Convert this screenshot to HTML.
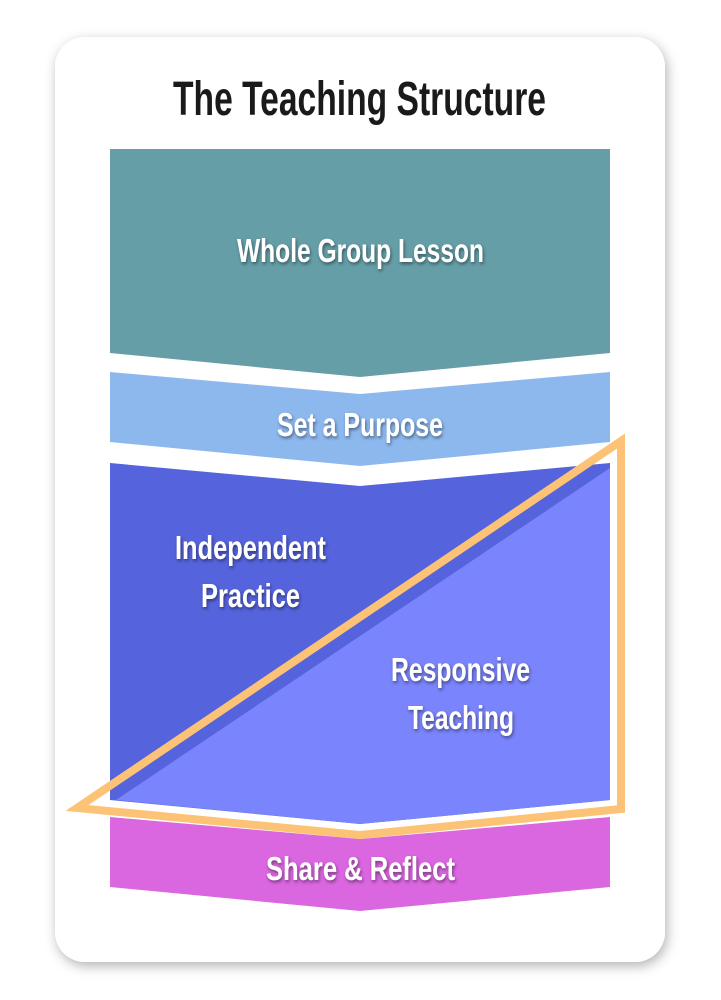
<!DOCTYPE html>
<html><head><meta charset="utf-8"><style>
html,body{margin:0;padding:0;background:#fff;width:721px;height:1000px;overflow:hidden}
svg{display:block}
</style></head><body>
<svg width="721" height="1000" viewBox="0 0 721 1000" xmlns="http://www.w3.org/2000/svg">
<defs>
<filter id="sh" x="-10%" y="-10%" width="120%" height="120%"><feDropShadow dx="2" dy="4" stdDeviation="6" flood-color="#000" flood-opacity="0.3"/></filter>
<filter id="ts" x="-10%" y="-20%" width="120%" height="150%"><feDropShadow dx="1" dy="2" stdDeviation="1.5" flood-color="#000" flood-opacity="0.45"/></filter>
</defs>
<rect x="55" y="37" width="610" height="925" rx="30" fill="#fff" filter="url(#sh)"/>
<text x="173" y="115" textLength="373" lengthAdjust="spacingAndGlyphs" font-family="Liberation Sans, sans-serif" font-weight="bold" font-size="48" fill="#1a1a1a">The Teaching Structure</text>
<polygon points="110,149 610,149 610,353 360,377 110,353" fill="#659ea7"/>
<polygon points="110,372 360,394 610,372 610,442 360,466 110,442" fill="#8db8ee"/>
<polygon points="110,463 360,486 610,463 610,800 360,824 110,800" fill="#5563dc"/>
<polygon points="610,468 610,800 360,824 116,800" fill="#7a84fc"/>
<polygon points="110,817 360,839 610,817 610,887 360,911 110,887" fill="#da66e0"/>
<polygon points="621,441 621,809 360,835 77,808" fill="none" stroke="#fcc275" stroke-width="8" stroke-linejoin="miter" stroke-miterlimit="10"/>
<g font-family="Liberation Sans, sans-serif" font-weight="bold" font-size="33" fill="#fff" filter="url(#ts)">
<text x="237" y="262" textLength="247" lengthAdjust="spacingAndGlyphs">Whole Group Lesson</text>
<text x="277" y="436" textLength="166" lengthAdjust="spacingAndGlyphs">Set a Purpose</text>
<text x="175" y="559" textLength="151" lengthAdjust="spacingAndGlyphs">Independent</text>
<text x="201" y="607" textLength="99" lengthAdjust="spacingAndGlyphs">Practice</text>
<text x="391" y="681" textLength="139" lengthAdjust="spacingAndGlyphs">Responsive</text>
<text x="408" y="729" textLength="106" lengthAdjust="spacingAndGlyphs">Teaching</text>
<text x="266" y="880" textLength="189" lengthAdjust="spacingAndGlyphs">Share &amp; Reflect</text>
</g>
</svg>
</body></html>
